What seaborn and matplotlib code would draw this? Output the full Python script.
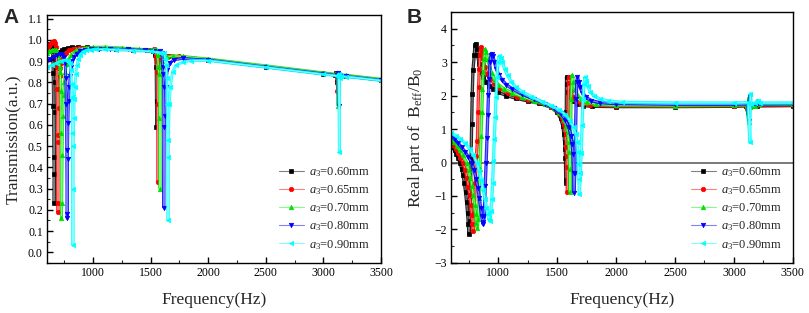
import numpy as np
import pandas as pd
import seaborn as sns
import matplotlib.pyplot as plt
from matplotlib.ticker import MultipleLocator, FormatStrFormatter

labels = [r"$a_3$=0.60mm", r"$a_3$=0.65mm", r"$a_3$=0.70mm", r"$a_3$=0.80mm", r"$a_3$=0.90mm"]
colors = ["#000000", "#ff0000", "#00e000", "#0000ff", "#00ffff"]
light = ["#808080", "#ff8080", "#80ff80", "#8080ff", "#80ffff"]
markers = ["s", "o", "^", "v", "<"]

# ---- panel A: transmission ----
freq_a_060 = [600, 612, 622, 632, 640, 646, 650, 653, 656, 659, 662, 665, 668, 672, 677, 683, 690, 700, 712, 728,
              750, 780, 820, 870, 950, 1050, 1200, 1350, 1480, 1520, 1535, 1542, 1547, 1551, 1555, 1560, 1567, 1577, 1590, 1610,
              1650, 1750, 2000, 2500, 3000, 3100, 3112, 3118, 3124, 3135, 3200, 3500]
trans_060 = [0.96, 0.975, 0.982, 0.98, 0.968, 0.945, 0.915, 0.845, 0.69, 0.45, 0.23, 0.37, 0.66, 0.8, 0.865, 0.895, 0.915, 0.932, 0.943, 0.951,
             0.957, 0.961, 0.964, 0.965, 0.964, 0.962, 0.958, 0.954, 0.95, 0.948, 0.94, 0.93, 0.87, 0.59, 0.71, 0.86, 0.895, 0.91, 0.918, 0.922,
             0.924, 0.92, 0.905, 0.873, 0.84, 0.834, 0.842, 0.80, 0.826, 0.832, 0.829, 0.81]

freq_a_065 = [600, 615, 630, 645, 658, 668, 676, 682, 686, 689, 692, 694, 696, 699, 702, 706, 711, 717, 725, 735,
              748, 765, 790, 830, 880, 950, 1050, 1200, 1350, 1480, 1530, 1545, 1552, 1557, 1560, 1564, 1570, 1580, 1595, 1620,
              1660, 1750, 2000, 2500, 3000, 3105, 3115, 3122, 3128, 3140, 3200, 3500]
trans_065 = [0.955, 0.97, 0.982, 0.99, 0.992, 0.985, 0.965, 0.93, 0.87, 0.77, 0.55, 0.23, 0.19, 0.52, 0.68, 0.77, 0.83, 0.865, 0.89, 0.91,
             0.927, 0.94, 0.951, 0.958, 0.962, 0.963, 0.962, 0.958, 0.954, 0.95, 0.955, 0.92, 0.9, 0.85, 0.70, 0.33, 0.89, 0.91, 0.92, 0.925,
             0.926, 0.922, 0.907, 0.874, 0.842, 0.836, 0.845, 0.76, 0.83, 0.834, 0.831, 0.812]

freq_a_070 = [600, 620, 640, 660, 675, 688, 698, 706, 712, 716, 720, 723, 726, 729, 733, 738, 744, 751, 760, 772,
              788, 810, 840, 880, 940, 1000, 1100, 1250, 1400, 1500, 1545, 1560, 1568, 1573, 1577, 1581, 1588, 1598, 1615, 1640,
              1690, 1780, 2000, 2500, 3000, 3110, 3120, 3126, 3132, 3145, 3200, 3500]
trans_070 = [0.94, 0.945, 0.95, 0.953, 0.952, 0.945, 0.93, 0.9, 0.87, 0.85, 0.76, 0.56, 0.16, 0.23, 0.46, 0.64, 0.74, 0.8, 0.85, 0.885,
             0.91, 0.93, 0.945, 0.955, 0.962, 0.965, 0.966, 0.962, 0.956, 0.952, 0.956, 0.93, 0.87, 0.84, 0.63, 0.30, 0.87, 0.9, 0.913, 0.92,
             0.924, 0.922, 0.91, 0.878, 0.845, 0.838, 0.846, 0.69, 0.83, 0.836, 0.833, 0.815]

freq_a_080 = [600, 630, 660, 690, 715, 735, 748, 757, 764, 768, 771, 774, 776, 779, 783, 788, 794, 801, 810, 822,
              838, 860, 890, 930, 980, 1050, 1150, 1300, 1450, 1530, 1580, 1598, 1605, 1609, 1612, 1615, 1619, 1624, 1632, 1645,
              1665, 1700, 1780, 2000, 2500, 3000, 3115, 3125, 3131, 3137, 3150, 3200, 3500]
trans_080 = [0.9, 0.91, 0.92, 0.93, 0.935, 0.93, 0.92, 0.89, 0.82, 0.7, 0.48, 0.18, 0.16, 0.44, 0.61, 0.71, 0.78, 0.83, 0.87, 0.9,
             0.92, 0.935, 0.945, 0.952, 0.956, 0.958, 0.958, 0.955, 0.95, 0.947, 0.945, 0.94, 0.87, 0.84, 0.78, 0.21, 0.59, 0.64, 0.78, 0.86,
             0.89, 0.905, 0.912, 0.905, 0.872, 0.84, 0.833, 0.842, 0.69, 0.82, 0.83, 0.828, 0.81]

freq_a_090 = [600, 640, 680, 720, 760, 785, 800, 808, 814, 818, 821, 824, 826, 829, 833, 838, 844, 851, 860, 872,
              888, 910, 940, 980, 1030, 1100, 1200, 1350, 1500, 1580, 1615, 1628, 1636, 1641, 1645, 1648, 1651, 1655, 1662, 1672,
              1690, 1720, 1780, 1850, 2000, 2500, 3000, 3120, 3132, 3138, 3142, 3155, 3200, 3500]
trans_090 = [0.87, 0.88, 0.89, 0.9, 0.905, 0.9, 0.89, 0.86, 0.79, 0.73, 0.56, 0.3, 0.035, 0.5, 0.63, 0.72, 0.78, 0.84, 0.88, 0.91,
             0.93, 0.943, 0.95, 0.953, 0.955, 0.955, 0.953, 0.949, 0.945, 0.94, 0.94, 0.91, 0.88, 0.82, 0.7, 0.45, 0.15, 0.53, 0.7, 0.78,
             0.85, 0.88, 0.895, 0.902, 0.902, 0.87, 0.837, 0.83, 0.84, 0.47, 0.82, 0.828, 0.826, 0.808]

# ---- panel B: real part of B_eff/B_0 ----
freq_b_060 = [600, 615, 630, 645, 660, 676, 690, 702, 713, 723, 732, 740, 747, 752, 758, 764, 770, 775, 780, 786,
              797, 803, 809, 817, 826, 838, 853, 872, 895, 925, 960, 1000, 1070, 1150, 1250, 1350, 1450, 1500, 1530, 1548,
              1558, 1564, 1568, 1571, 1573, 1575, 1578, 1580, 1586, 1595, 1610, 1635, 1670, 1720, 1800, 2000, 2500, 3000, 3100, 3118,
              3124, 3130, 3150, 3200, 3500]
re_060 = [0.52, 0.45, 0.36, 0.25, 0.13, 0.0, -0.18, -0.38, -0.6, -0.88, -1.18, -1.5, -1.85, -2.15, -1.75, -1.0, 0.1, 1.15, 2.05, 2.75,
          3.2, 3.5, 3.55, 3.4, 3.2, 2.95, 2.7, 2.55, 2.42, 2.3, 2.2, 2.1, 2.0, 1.92, 1.84, 1.77, 1.65, 1.5, 1.32, 1.1,
          0.85, 0.6, 0.4, 0.13, -0.52, -0.6, 1.5, 2.55, 2.35, 2.12, 1.95, 1.83, 1.75, 1.7, 1.68, 1.67, 1.67, 1.68, 1.69, 1.5,
          1.8, 1.7, 1.7, 1.69, 1.7]

freq_b_065 = [600, 620, 640, 660, 680, 704, 720, 735, 748, 758, 767, 775, 782, 789, 797, 806, 815, 824, 829, 834,
              839, 845, 851, 860, 872, 887, 905, 930, 965, 1010, 1080, 1160, 1250, 1350, 1450, 1510, 1540, 1560, 1572, 1578,
              1582, 1585, 1588, 1592, 1597, 1604, 1615, 1632, 1660, 1700, 1780, 2000, 2500, 3000, 3105, 3122, 3128, 3135, 3200, 3500]
re_065 = [0.62, 0.52, 0.4, 0.27, 0.14, 0.0, -0.22, -0.45, -0.72, -0.98, -1.28, -1.58, -1.85, -2.05, -1.5, -0.6, 0.2, 0.63, 1.5, 2.25,
          2.8, 3.2, 3.45, 3.32, 3.1, 2.85, 2.65, 2.5, 2.35, 2.22, 2.08, 1.97, 1.88, 1.8, 1.65, 1.5, 1.33, 1.12, 0.85, 0.45,
          0.18, -0.12, -0.88, 1.2, 2.55, 2.38, 2.15, 1.97, 1.84, 1.76, 1.71, 1.69, 1.68, 1.69, 1.7, 1.55, 1.85, 1.72, 1.71, 1.72]

freq_b_070 = [600, 625, 650, 675, 700, 733, 750, 765, 778, 790, 800, 808, 816, 823, 830, 838, 846, 854, 861, 867,
              873, 880, 888, 897, 910, 926, 945, 970, 1000, 1050, 1120, 1200, 1300, 1400, 1470, 1520, 1555, 1578, 1590, 1597,
              1602, 1606, 1609, 1614, 1618, 1628, 1638, 1652, 1672, 1700, 1750, 1830, 2000, 2500, 3000, 3110, 3125, 3130, 3140, 3180,
              3200, 3215, 3500]
re_070 = [0.72, 0.62, 0.5, 0.36, 0.21, 0.0, -0.22, -0.45, -0.7, -0.98, -1.28, -1.55, -1.8, -1.95, -1.7, -1.05, -0.2, 0.8, 1.5, 2.2,
          2.7, 3.1, 3.38, 3.3, 3.1, 2.88, 2.66, 2.47, 2.33, 2.2, 2.08, 1.97, 1.85, 1.74, 1.62, 1.48, 1.3, 1.1, 0.9, 0.6,
          0.3, -0.2, -0.88, 0.7, 1.9, 2.6, 2.42, 2.2, 2.02, 1.9, 1.8, 1.74, 1.71, 1.7, 1.71, 1.72, 1.2, 1.95, 1.65, 1.68,
          1.85, 1.74, 1.74]

freq_b_080 = [600, 630, 660, 690, 720, 748, 775, 795, 812, 827, 840, 851, 860, 868, 874, 882, 890, 898, 905, 912,
              918, 924, 931, 938, 945, 955, 968, 985, 1005, 1030, 1070, 1120, 1200, 1300, 1400, 1470, 1530, 1570, 1600, 1618,
              1628, 1635, 1640, 1644, 1650, 1656, 1662, 1667, 1673, 1682, 1695, 1715, 1745, 1790, 1860, 2000, 2500, 3000, 3115, 3128,
              3134, 3142, 3200, 3500]
re_080 = [0.8, 0.7, 0.58, 0.45, 0.32, 0.16, 0.0, -0.22, -0.48, -0.75, -1.05, -1.35, -1.6, -1.78, -1.85, -1.6, -0.7, 0.0, 0.73, 1.43,
          2.03, 2.5, 3.0, 3.2, 3.25, 3.18, 3.0, 2.8, 2.62, 2.48, 2.32, 2.2, 2.05, 1.9, 1.76, 1.63, 1.47, 1.28, 1.05, 0.8,
          0.55, 0.25, -0.3, -0.9, -0.3, 0.8, 1.9, 2.4, 2.55, 2.42, 2.25, 2.08, 1.95, 1.85, 1.79, 1.76, 1.74, 1.74, 1.75, 1.25,
          2.0, 1.72, 1.75, 1.76]

freq_b_090 = [600, 640, 680, 720, 760, 790, 818, 840, 858, 874, 888, 900, 912, 922, 930, 938, 946, 953, 960, 967,
              975, 982, 990, 998, 1009, 1020, 1035, 1055, 1080, 1110, 1150, 1200, 1280, 1370, 1450, 1520, 1570, 1610, 1640, 1658,
              1668, 1675, 1681, 1685, 1689, 1697, 1705, 1712, 1720, 1728, 1736, 1746, 1760, 1780, 1810, 1860, 1930, 2050, 2500, 3000,
              3120, 3135, 3140, 3148, 3180, 3205, 3220, 3500]
re_090 = [0.88, 0.8, 0.7, 0.57, 0.4, 0.22, 0.0, -0.25, -0.52, -0.82, -1.1, -1.35, -1.55, -1.7, -1.75, -1.45, -1.1, -0.6, 0.05, 0.7,
          1.35, 1.95, 2.55, 3.0, 3.18, 3.12, 3.0, 2.8, 2.6, 2.42, 2.25, 2.12, 1.97, 1.82, 1.7, 1.57, 1.43, 1.25, 1.05, 0.85,
          0.6, 0.3, -0.05, -0.5, -0.95, -0.3, 0.28, 1.13, 1.9, 2.35, 2.55, 2.45, 2.28, 2.12, 2.0, 1.9, 1.84, 1.8, 1.78, 1.78,
          1.79, 0.6, 2.05, 1.75, 1.78, 1.85, 1.78, 1.78]

series_a = [(freq_a_060, trans_060), (freq_a_065, trans_065), (freq_a_070, trans_070),
            (freq_a_080, trans_080), (freq_a_090, trans_090)]
series_b = [(freq_b_060, re_060), (freq_b_065, re_065), (freq_b_070, re_070),
            (freq_b_080, re_080), (freq_b_090, re_090)]

sns.set_theme(style="ticks")
plt.rcParams.update({
    "font.family": ["Liberation Serif", "DejaVu Serif"],
    "mathtext.fontset": "custom",
    "mathtext.rm": "Liberation Serif",
    "mathtext.it": "Liberation Serif:italic",
    "xtick.direction": "in",
    "ytick.direction": "in",
    "axes.edgecolor": "black",
    "axes.linewidth": 1.0,
})

fig = plt.figure(figsize=(8.09, 3.13), dpi=100)
axA = fig.add_axes([0.058, 0.16, 0.413, 0.791])
axB = fig.add_axes([0.5575, 0.16, 0.4225, 0.802])


def draw(ax, series, band_lw):
    for i, (f, v) in enumerate(series):
        # dense sampling in the original shows up as a solid coloured band
        sns.lineplot(x=f, y=v, ax=ax, color=colors[i], linewidth=band_lw,
                     estimator=None, sort=False, legend=False, alpha=0.85)
        sns.lineplot(x=f, y=v, ax=ax, color=light[i], linewidth=0.8,
                     marker=markers[i], markersize=3.2, markerfacecolor=colors[i],
                     markeredgecolor=colors[i], markeredgewidth=0.5,
                     estimator=None, sort=False, label=labels[i])


draw(axA, series_a, 2.0)
axB.axhline(0, color="#555555", lw=1.1, zorder=1)
draw(axB, series_b, 2.4)

for ax in (axA, axB):
    ax.set_xlim(600, 3500)
    ax.xaxis.set_major_locator(MultipleLocator(500))
    ax.xaxis.set_minor_locator(MultipleLocator(250))
    ax.tick_params(which="major", length=4, width=1, labelsize=8.5, colors="black", pad=3)
    ax.tick_params(which="minor", length=2, width=0.8)
    ax.tick_params(top=False, right=False, which="both")
    ax.set_xlabel("Frequency(Hz)", fontsize=12.5, labelpad=9)
    for s in ax.spines.values():
        s.set_color("black")
    ax.legend(loc="lower right", frameon=False, fontsize=9, handlelength=2.0,
              labelspacing=0.35, handletextpad=0.4, borderaxespad=0.5)

axA.set_ylim(-0.05, 1.115)
axA.yaxis.set_major_locator(MultipleLocator(0.1))
axA.yaxis.set_minor_locator(MultipleLocator(0.05))
axA.yaxis.set_major_formatter(FormatStrFormatter("%.1f"))
axA.set_ylabel("Transmission(a.u.)", fontsize=12.5, labelpad=4)

axB.set_ylim(-3, 4.5)
axB.yaxis.set_major_locator(MultipleLocator(1))
axB.yaxis.set_minor_locator(MultipleLocator(0.5))
axB.set_ylabel(r"Real part of  B$_{\mathrm{eff}}$/B$_{0}$", fontsize=12.5, labelpad=6)

fig.text(0.004, 0.925, "A", fontsize=15, fontweight="bold", family="Liberation Sans")
fig.text(0.503, 0.925, "B", fontsize=15, fontweight="bold", family="Liberation Sans")

fig.savefig("out.png", dpi=100)
